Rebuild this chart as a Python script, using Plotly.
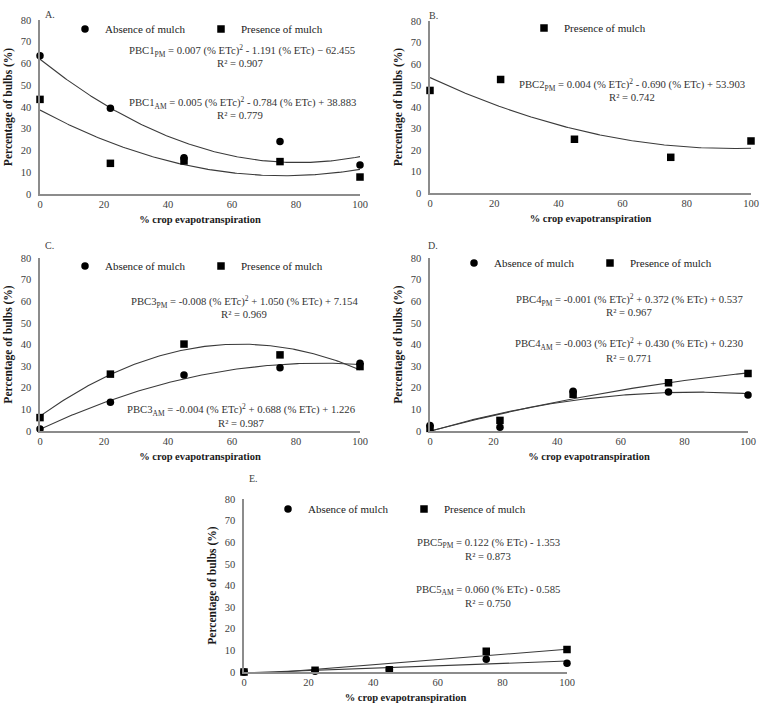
import numpy as np
import plotly.graph_objects as go

W, H = 761, 703
etc = [0, 22, 45, 75, 100]
x_ticks = [0, 20, 40, 60, 80, 100]
y_ticks = [0, 10, 20, 30, 40, 50, 60, 70, 80]

# Panel A
A_absence = [63.6, 39.4, 16.7, 24.1, 13.3]
A_presence = [43.5, 14.1, 15.2, 14.9, 7.8]
# Panel B
B_presence = [47.7, 52.8, 25.0, 16.6, 24.2]
# Panel C
C_absence = [0.9, 13.3, 25.9, 29.2, 31.3]
C_presence = [6.2, 26.3, 40.2, 35.2, 29.8]
# Panel D
D_absence = [2.5, 1.7, 18.4, 18.0, 16.6]
D_presence = [1.2, 4.9, 17.0, 22.3, 26.6]
# Panel E
E_absence = [0.0, 0.3, 1.0, 5.9, 4.0]
E_presence = [0.0, 0.8, 1.0, 9.6, 10.4]

FONT = "Liberation Serif"
AXIS_COL = "#8c8c8c"
LINE_COL = "#3a3a3a"

# panel pixel boxes: (x0, x1, y_top(80), y_bottom(0))
panels = {
    "A": (40, 360, 20, 194),
    "B": (430, 751, 21, 193),
    "C": (40, 360, 258, 431),
    "D": (430, 748, 258, 431),
    "E": (244, 567, 499, 672),
}

fig = go.Figure()

def px(x):
    return x / W

def py(y):
    return 1 - y / H

series = {
    "A": [("Absence of mulch", A_absence, "circle", 2), ("Presence of mulch", A_presence, "square", 2)],
    "B": [("Presence of mulch", B_presence, "square", 2)],
    "C": [("Absence of mulch", C_absence, "circle", 2), ("Presence of mulch", C_presence, "square", 2)],
    "D": [("Absence of mulch", D_absence, "circle", 2), ("Presence of mulch", D_presence, "square", 2)],
    "E": [("Absence of mulch", E_absence, "circle", 1), ("Presence of mulch", E_presence, "square", 1)],
}

# legend first-symbol positions
legend_pos = {
    "A": (93, 29),
    "B": (552, 28),
    "C": (93, 266),
    "D": (482, 263),
    "E": (296, 509),
}

layout = dict()
for i, key in enumerate(["A", "B", "C", "D", "E"]):
    n = i + 1
    xa = "x" if n == 1 else f"x{n}"
    ya = "y" if n == 1 else f"y{n}"
    lg = "legend" if n == 1 else f"legend{n}"
    x0, x1, yt, yb = panels[key]
    for name, vals, sym, deg in series[key]:
        coef = np.polyfit(etc, vals, deg)
        xs = np.linspace(0, 100, 201)
        fig.add_trace(go.Scatter(x=xs, y=np.polyval(coef, xs), mode="lines",
                                 line=dict(color=LINE_COL, width=1.1),
                                 showlegend=False, hoverinfo="skip",
                                 xaxis=xa, yaxis=ya))
    for name, vals, sym, deg in series[key]:
        fig.add_trace(go.Scatter(x=etc, y=vals, mode="markers", name=name,
                                 marker=dict(symbol=sym, size=7.5, color="black"),
                                 xaxis=xa, yaxis=ya, legend=lg, cliponaxis=False))
    axkey_x = "xaxis" if n == 1 else f"xaxis{n}"
    axkey_y = "yaxis" if n == 1 else f"yaxis{n}"
    layout[axkey_x] = dict(
        domain=[px(x0), px(x1)], range=[0, 100], anchor=ya, automargin=False,
        tickvals=x_ticks, showgrid=False, zeroline=False,
        showline=True, linecolor=AXIS_COL, linewidth=1.5,
        tickfont=dict(family=FONT, size=10.5, color="#404040"), ticks="",
        title=dict(text="<b>% crop evapotranspiration</b>", standoff=6,
                   font=dict(family=FONT, size=10.5, color="#1a1a1a")),
    )
    layout[axkey_y] = dict(
        domain=[py(yb), py(yt)], range=[0, 80], anchor=xa, automargin=False,
        tickvals=y_ticks, showgrid=False, zeroline=False,
        showline=True, linecolor=AXIS_COL, linewidth=1.5,
        tickfont=dict(family=FONT, size=10.5, color="#404040"), ticks="",
        ticklabelstandoff=5,
        title=dict(text="<b>Percentage of bulbs (%)</b>", standoff=6,
                   font=dict(family=FONT, size=11.5, color="#1a1a1a")),
    )
    lx, ly = legend_pos[key]
    layout[lg] = dict(
        x=px(lx - 28), y=py(ly), xanchor="left", yanchor="middle",
        orientation="h", bgcolor="rgba(0,0,0,0)",
        font=dict(family=FONT, size=11, color="#1a1a1a"),
        itemwidth=30, entrywidth=91, entrywidthmode="pixels",
        tracegroupgap=0, traceorder="normal",
    )
    # panel letter
    fig.add_annotation(text=key + ".", x=px(x0 + 3), y=py(yt - 13), xref="paper", yref="paper",
                       showarrow=False, font=dict(family=FONT, size=10, color="#404040"))

eqs = [
    ("PBC1<sub>PM</sub> = 0.007 (% ETc)<sup>2</sup> - 1.191 (% ETc) − 62.455", 242, 51),
    ("R² = 0.907", 240, 63),
    ("PBC1<sub>AM</sub> = 0.005 (% ETc)<sup>2</sup> - 0.784 (% ETc) + 38.883", 242, 103),
    ("R² = 0.779", 240, 115),
    ("PBC2<sub>PM</sub> = 0.004 (% ETc)<sup>2</sup> - 0.690 (% ETc) + 53.903", 632, 85),
    ("R² = 0.742", 632, 97),
    ("PBC3<sub>PM</sub> = -0.008 (% ETc)<sup>2</sup> + 1.050 (% ETc) + 7.154", 244, 302),
    ("R² = 0.969", 244, 314),
    ("PBC3<sub>AM</sub> = -0.004 (% ETc)<sup>2</sup> + 0.688 (% ETc) + 1.226", 241, 410),
    ("R² = 0.987", 241, 423),
    ("PBC4<sub>PM</sub> = -0.001 (% ETc)<sup>2</sup> + 0.372 (% ETc) + 0.537", 629, 300),
    ("R² = 0.967", 629, 312),
    ("PBC4<sub>AM</sub> = -0.003 (% ETc)<sup>2</sup> + 0.430 (% ETc) + 0.230", 629, 344),
    ("R² = 0.771", 629, 358),
    ("PBC5<sub>PM</sub> = 0.122 (% ETc) - 1.353", 488, 543),
    ("R² = 0.873", 488, 556),
    ("PBC5<sub>AM</sub> = 0.060 (% ETc) - 0.585", 488, 590),
    ("R² = 0.750", 488, 603),
]
for t, x, y in eqs:
    fig.add_annotation(text=t, x=px(x), y=py(y), xref="paper", yref="paper",
                       showarrow=False, xanchor="center", yanchor="middle",
                       font=dict(family=FONT, size=10.7, color="#333333"))

fig.update_layout(
    width=W, height=H, margin=dict(l=0, r=0, t=0, b=0),
    paper_bgcolor="white", plot_bgcolor="white",
    font=dict(family=FONT, color="#333333"),
    **layout,
)
fig.write_html("out.html")
